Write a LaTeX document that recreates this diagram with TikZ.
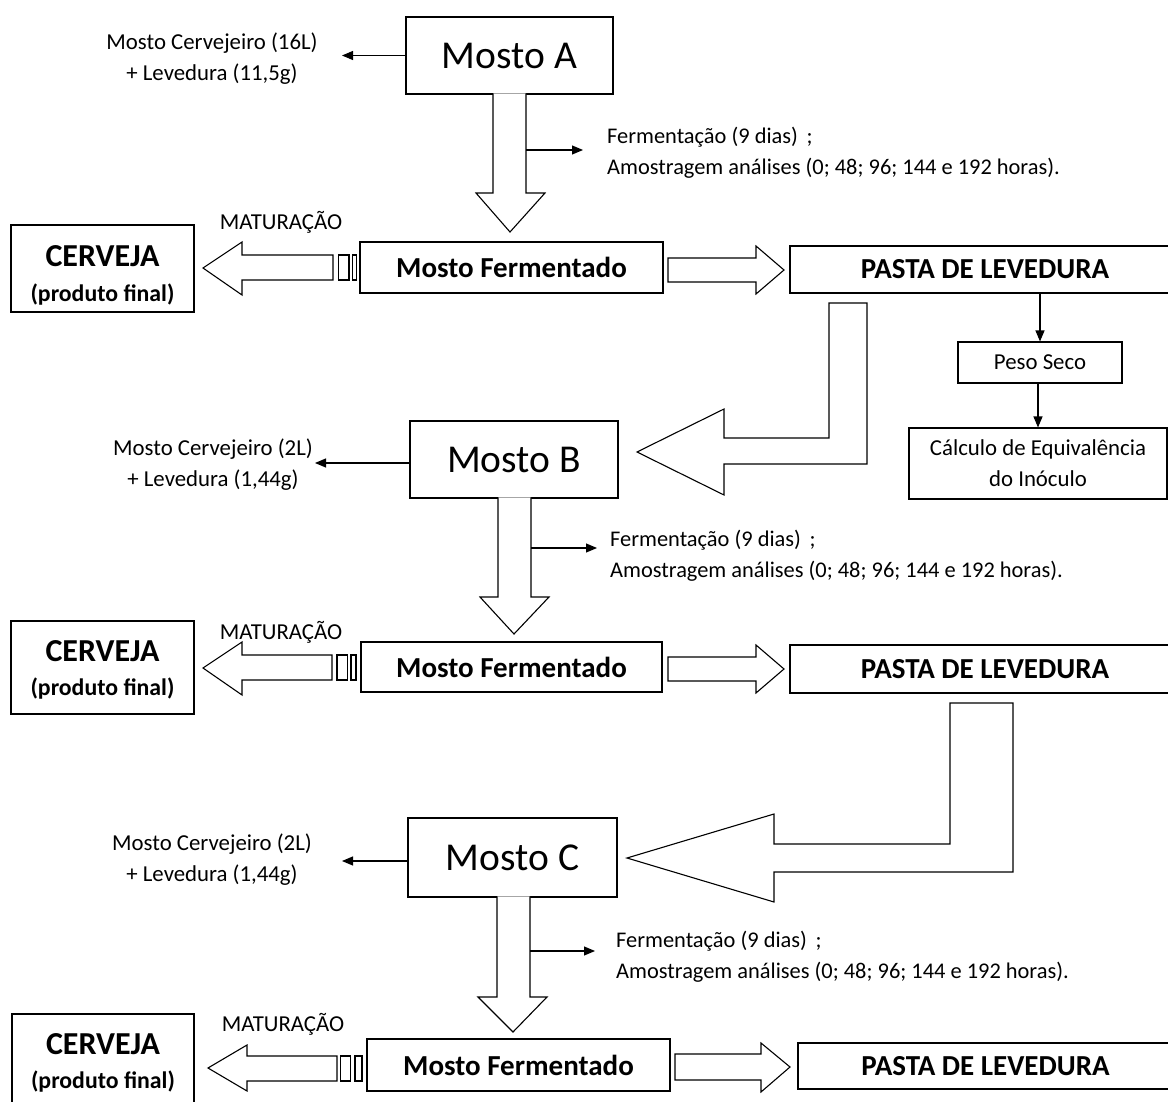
\documentclass[tikz,border=0pt]{standalone}
\usepackage{fontspec}
\setmainfont{Carlito}
\usetikzlibrary{arrows.meta}
\newcommand\mysmall{\fontsize{22.8}{31}\selectfont}
\newcommand\myferm{\fontsize{22.4}{31}\selectfont}
\newcommand\mymid{\bfseries\fontsize{29}{32}\selectfont}
\newcommand\mybig{\fontsize{39.5}{41}\selectfont}
\newcommand\mycv{\bfseries\fontsize{32}{34}\selectfont}
\newcommand\mypf{\bfseries\fontsize{23.8}{26}\selectfont}
\begin{document}
\begin{tikzpicture}[x=1pt,y=-1pt,
  box/.style={draw, line width=1.1pt, inner sep=0pt},
  barrow/.style={draw, fill=white, line width=1.1pt, line join=miter},
  sarrow/.style={line width=1.1pt, -{Triangle[length=11pt,width=9pt]}},
  txt/.style={inner sep=0pt, font=\mysmall, align=center},
  ftxt/.style={inner sep=0pt, font=\myferm, anchor=west, align=left}]
\useasboundingbox (0,0) rectangle (1168,1102);
\clip (0,0) rectangle (1168,1102);

% ===== Mosto A block =====
\node[box, minimum width=207pt, minimum height=77pt] (ma) at (509.5,55.5) {\mybig Mosto A};
\filldraw[barrow] (493,93.3) -- (493,193) -- (476,193) -- (510,232) -- (545,193) -- (526,193) -- (526,93.3);
\coordinate (ta) at (342,55.5);
\draw[sarrow] (ma.west) -- (ta);
\node[txt] (ia) at (212,59) {Mosto Cervejeiro (16L)\\+ Levedura (11,5g)};
\coordinate (fa0) at (526,150);
\coordinate (fa1) at (583,150);
\draw[sarrow] (fa0) -- (fa1);
\node[ftxt] (fta) at (607,153) {Fermentação (9 dias)\, ;\\Amostragem análises (0; 48; 96; 144 e 192 horas).};

% ===== Row 1 =====
\node[box, minimum width=183pt, minimum height=87pt] (cv1) at (102.5,268.5) {};
\node[inner sep=0pt, font=\mycv] at (102.5,256) {CERVEJA};
\node[inner sep=0pt, font=\mypf] at (102.5,295) {(produto final)};
\node[inner sep=0pt, font=\mysmall] (mt1) at (281,222) {MATURAÇÃO};
\node[box, minimum width=303pt, minimum height=51pt] (mf1) at (511.5,267.5) {\mymid Mosto Fermentado};
\filldraw[barrow] (333,255) -- (242,255) -- (242,242) -- (203,268) -- (242,295) -- (242,280) -- (333,280) -- cycle;
\draw[barrow] (338.3,255) rectangle (349,280);
\draw[barrow] (352.3,255) rectangle (356.7,280);
\filldraw[barrow] (668,258) -- (756,258) -- (756,246) -- (784,270) -- (756,294) -- (756,282) -- (668,282) -- cycle;
\node[box, minimum width=390pt, minimum height=47pt] (pa1) at (985,269.5) {\mymid PASTA DE LEVEDURA};

% Peso seco branch
\node[box, minimum width=164pt, minimum height=41pt] (ps) at (1040,362.5) {\mysmall Peso Seco};
\node[box, minimum width=258pt, minimum height=71pt, align=center, font=\mysmall] (ce) at (1038,463.5) {Cálculo de Equivalência\\do Inóculo};
\draw[sarrow] (pa1.south -| ps.north) -- (ps.north);
\draw[sarrow] (ps.south -| ce.north) -- (ce.north);

% L arrow 1
\filldraw[barrow] (829,303) -- (867,303) -- (867,464) -- (724,464) -- (724,495) -- (637,452) -- (724,409) -- (724,438) -- (829,438) -- cycle;

% ===== Mosto B block =====
\node[box, minimum width=208pt, minimum height=77pt] (mb) at (514,459.5) {\mybig Mosto B};
\filldraw[barrow] (498,497.3) -- (498,597) -- (480,597) -- (514,634) -- (549,597) -- (531,597) -- (531,497.3);
\coordinate (tb) at (315,463);
\draw[sarrow] (mb.west |- tb) -- (tb);
\node[txt] (ib) at (213,465) {Mosto Cervejeiro (2L)\\+ Levedura (1,44g)};
\coordinate (fb0) at (531,548);
\coordinate (fb1) at (597,548);
\draw[sarrow] (fb0) -- (fb1);
\node[ftxt] (ftb) at (610,556) {Fermentação (9 dias)\, ;\\Amostragem análises (0; 48; 96; 144 e 192 horas).};

% ===== Row 2 =====
\node[box, minimum width=183pt, minimum height=93pt] (cv2) at (102.5,667.5) {};
\node[inner sep=0pt, font=\mycv] at (102.5,651) {CERVEJA};
\node[inner sep=0pt, font=\mypf] at (102.5,689) {(produto final)};
\node[inner sep=0pt, font=\mysmall] (mt2) at (281,632) {MATURAÇÃO};
\node[box, minimum width=301pt, minimum height=50pt] (mf2) at (511.5,667) {\mymid Mosto Fermentado};
\filldraw[barrow] (332,655) -- (242,655) -- (242,642) -- (203,668) -- (242,695) -- (242,680) -- (332,680) -- cycle;
\draw[barrow] (337,655) rectangle (347.5,680);
\draw[barrow] (351,655) rectangle (356,680);
\filldraw[barrow] (668,657) -- (756,657) -- (756,645) -- (784,669) -- (756,693) -- (756,681) -- (668,681) -- cycle;
\node[box, minimum width=390pt, minimum height=48pt] (pa2) at (985,669) {\mymid PASTA DE LEVEDURA};

% L arrow 2
\filldraw[barrow] (950,703) -- (1013,703) -- (1013,872) -- (774,872) -- (774,902) -- (627,858) -- (774,814) -- (774,844) -- (950,844) -- cycle;

% ===== Mosto C block =====
\node[box, minimum width=209pt, minimum height=79pt] (mc) at (512.5,857.5) {\mybig Mosto C};
\filldraw[barrow] (497,896.3) -- (497,997) -- (478,997) -- (513,1032) -- (547,997) -- (530,997) -- (530,896.3);
\coordinate (tc) at (342,861);
\draw[sarrow] (mc.west |- tc) -- (tc);
\node[txt] (ic) at (212,860) {Mosto Cervejeiro (2L)\\+ Levedura (1,44g)};
\coordinate (fc0) at (530,951);
\coordinate (fc1) at (595,951);
\draw[sarrow] (fc0) -- (fc1);
\node[ftxt] (ftc) at (616,957) {Fermentação (9 dias)\, ;\\Amostragem análises (0; 48; 96; 144 e 192 horas).};

% ===== Row 3 =====
\node[box, minimum width=182pt, minimum height=100pt] (cv3) at (103,1064) {};
\node[inner sep=0pt, font=\mycv] at (103,1044) {CERVEJA};
\node[inner sep=0pt, font=\mypf] at (103,1082) {(produto final)};
\node[inner sep=0pt, font=\mysmall] (mt3) at (283,1024) {MATURAÇÃO};
\node[box, minimum width=303pt, minimum height=52pt] (mf3) at (518.5,1065) {\mymid Mosto Fermentado};
\filldraw[barrow] (337,1056) -- (247,1056) -- (247,1045) -- (208,1068) -- (247,1091) -- (247,1081) -- (337,1081) -- cycle;
\draw[barrow] (340.5,1056) rectangle (350.5,1081);
\draw[barrow] (355,1056) rectangle (362,1081);
\filldraw[barrow] (675,1054) -- (761,1054) -- (761,1043) -- (790,1067) -- (761,1092) -- (761,1080) -- (675,1080) -- cycle;
\node[box, minimum width=382pt, minimum height=46pt] (pa3) at (989,1066) {};
\node[inner sep=0pt, font=\mymid] at (985.5,1066) {PASTA DE LEVEDURA};
\end{tikzpicture}
\end{document}
